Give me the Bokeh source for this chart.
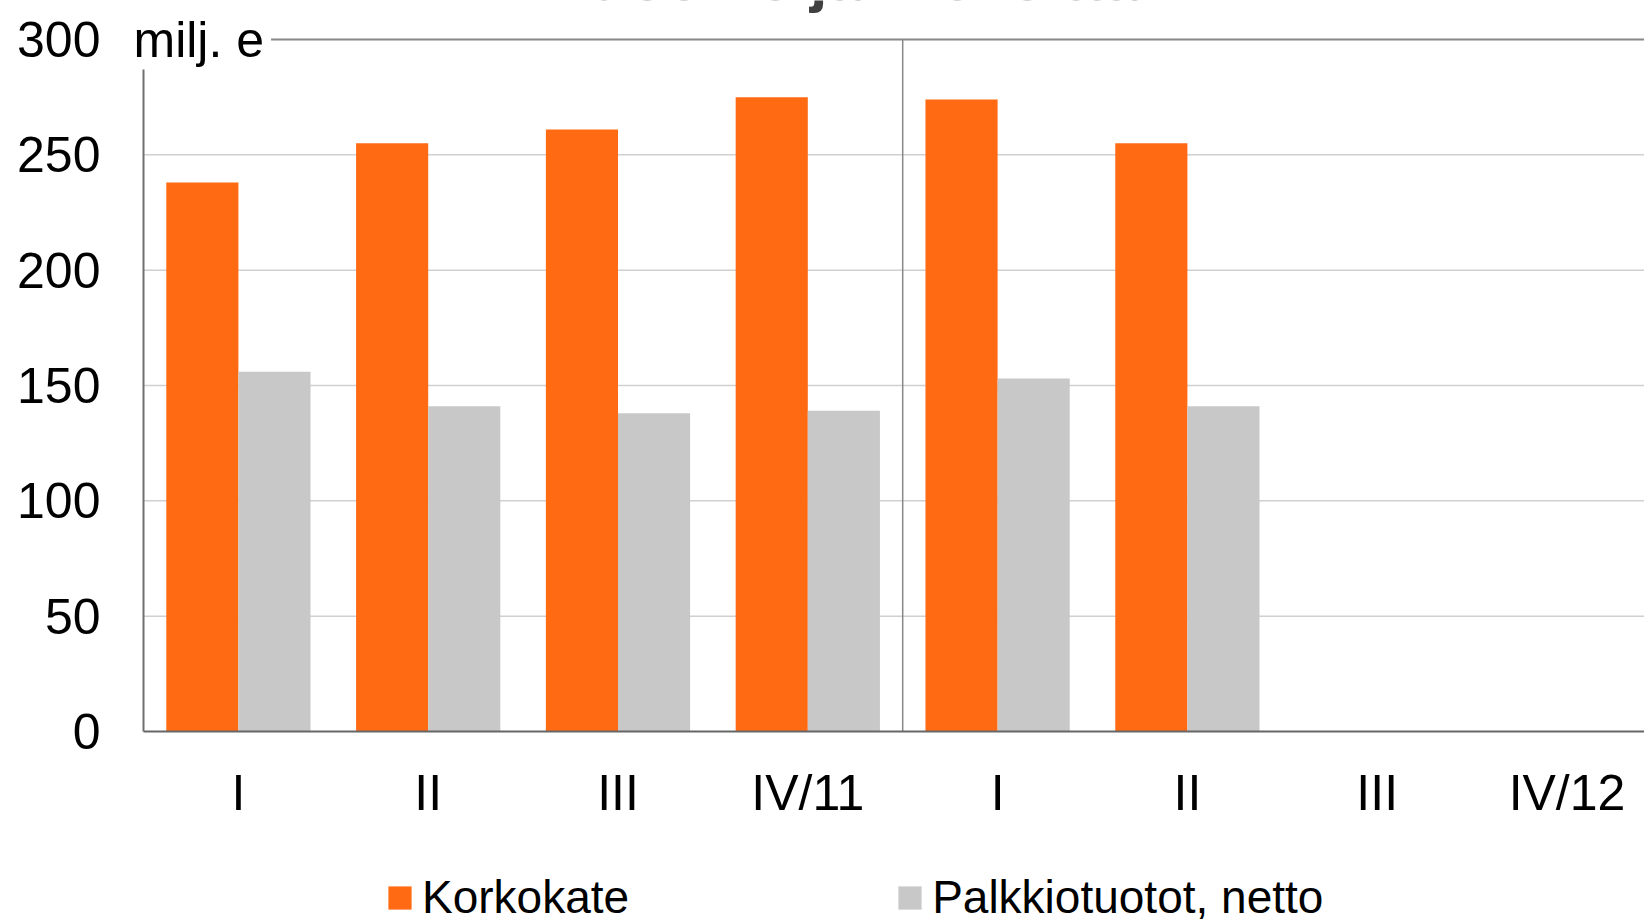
from bokeh.plotting import figure
from bokeh.models import (Range1d, Label, Legend, LegendItem, FixedTicker,
                          ColumnDataSource)
from bokeh.embed import file_html
from bokeh.resources import INLINE

# ---- data ----
quarters = ["I", "II", "III", "IV/11", "I", "II", "III", "IV/12"]
korkokate = [238, 255, 261, 275, 274, 255, None, None]
palkkiotuotot = [156, 141, 138, 139, 153, 141, None, None]
y_ticks = [0, 50, 100, 150, 200, 250, 300]
series_names = ["Korkokate", "Palkkiotuotot, netto"]
series_colors = ["#FF6A13", "#C8C8C8"]
title_text = "Vuosineljänneksittäin"
unit_text = "milj. e"
year_break = 4  # separator between 2011 and 2012 groups

FONT = "Liberation Sans"
W, H = 1644, 924

positions = [i + 0.5 for i in range(len(quarters))]
n_groups = len(quarters)
y_max = y_ticks[-1]

# frame covers whole canvas; data area: x 143..(143+8*189.8), y 39..731 px
px_x = 189.8
px_y = 692 / y_max
x_range = Range1d(-143 / px_x, (W - 143) / px_x)
y_range = Range1d(-(H - 731) / px_y, y_max + 39 / px_y)

def src(vals, offset):
    xs = [p + offset for p, v in zip(positions, vals) if v is not None]
    ys = [v for v in vals if v is not None]
    return ColumnDataSource(dict(x=xs, top=ys))

p = figure(width=W, height=H, x_range=x_range, y_range=y_range,
           output_backend="svg", toolbar_location=None, tools="")
p.min_border = 0
p.min_border_left = 0
p.min_border_right = 0
p.min_border_top = 0
p.min_border_bottom = 0
p.outline_line_color = None
p.background_fill_color = "white"
p.border_fill_color = "white"
p.xgrid.visible = False
p.ygrid.visible = False

# gridlines (from tick values)
grid_vals = y_ticks[1:-1]
p.segment(x0=[0] * len(grid_vals), x1=[n_groups] * len(grid_vals), y0=grid_vals, y1=grid_vals,
          line_color="#D0D0D0", line_width=1.5)
# top line at max tick
p.segment(x0=[0], x1=[n_groups], y0=[y_max], y1=[y_max], line_color="#888888", line_width=2)
# year separator
p.segment(x0=[year_break], x1=[year_break], y0=[0], y1=[y_max], line_color="#888888", line_width=1.5)

bw = 0.38
r1 = p.vbar(x="x", top="top", bottom=0, width=bw, source=src(korkokate, -bw / 2),
            fill_color=series_colors[0], line_color=None)
r2 = p.vbar(x="x", top="top", bottom=0, width=bw, source=src(palkkiotuotot, bw / 2),
            fill_color=series_colors[1], line_color=None)

# y axis
ya = p.yaxis[0]
ya.fixed_location = 0
ya.bounds = (0, y_max)
ya.ticker = FixedTicker(ticks=y_ticks)
ya.axis_line_color = "#707070"
ya.axis_line_width = 2
ya.major_tick_line_color = None
ya.minor_tick_line_color = None
ya.major_tick_out = 0
ya.major_tick_in = 0
ya.major_label_standoff = 43
ya.major_label_text_font = FONT
ya.major_label_text_font_size = "50px"
ya.major_label_text_color = "#000000"

# x axis
xa = p.xaxis[0]
xa.fixed_location = 0
xa.bounds = (0, n_groups)
xa.ticker = FixedTicker(ticks=positions)
xa.major_label_overrides = {pos: lab for pos, lab in zip(positions, quarters)}
xa.axis_line_color = "#666666"
xa.axis_line_width = 2
xa.major_tick_line_color = None
xa.minor_tick_line_color = None
xa.major_tick_out = 0
xa.major_tick_in = 0
xa.major_label_standoff = 33
xa.major_label_text_font = FONT
xa.major_label_text_font_size = "50px"
xa.major_label_text_color = "#000000"

# unit label (white background hides the axis/top line behind it)
p.add_layout(Label(x=133, y=H - 40, x_units="screen", y_units="screen", text=unit_text,
                   text_font=FONT, text_font_size="50px", text_color="#000000",
                   text_align="left", text_baseline="middle",
                   background_fill_color="white", padding=(0, 7, 0, 2)))

# title (cut off at the top edge, as in the reference)
p.add_layout(Label(x=872, y=H + 23, x_units="screen", y_units="screen", text=title_text,
                   text_font=FONT, text_font_size="63px", text_font_style="bold",
                   text_color="#404040", text_align="center", text_baseline="middle"))

legend = Legend(items=[LegendItem(label=series_names[0], renderers=[r1]),
                       LegendItem(label=series_names[1], renderers=[r2])],
                orientation="horizontal", location=(385, 0),
                padding=0, margin=0, spacing=266, label_standoff=8,
                glyph_width=29, glyph_height=29,
                label_text_font=FONT, label_text_font_size="46px",
                label_text_color="#000000",
                border_line_color=None, background_fill_alpha=0)
p.add_layout(legend)

open("out.html", "w").write(file_html(p, INLINE))
